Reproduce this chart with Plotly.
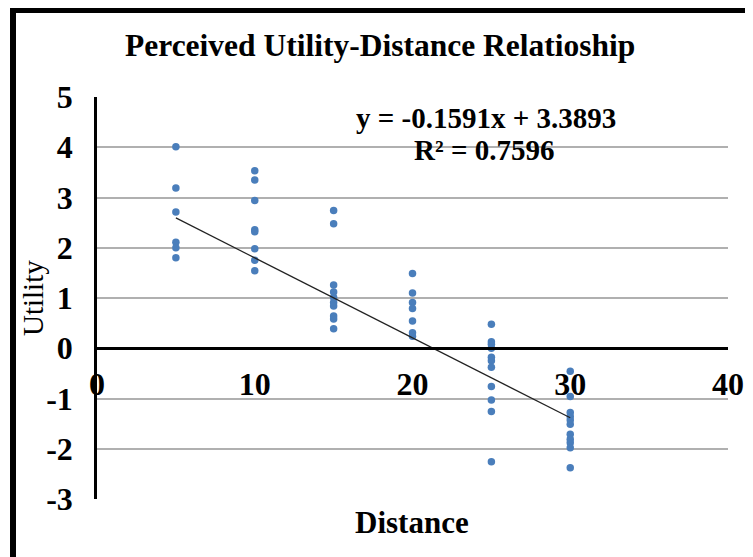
import numpy as np
import plotly.graph_objects as go

# ---- data ----
dist_5 = [5, 5, 5, 5, 5, 5]
util_5 = [4.01, 3.19, 2.71, 2.11, 2.00, 1.80]

dist_10 = [10, 10, 10, 10, 10, 10, 10, 10]
util_10 = [3.53, 3.35, 2.94, 2.36, 2.32, 1.98, 1.75, 1.54]

dist_15 = [15, 15, 15, 15, 15, 15, 15, 15, 15, 15]
util_15 = [2.74, 2.48, 1.26, 1.12, 1.01, 0.91, 0.84, 0.64, 0.58, 0.39]

dist_20 = [20, 20, 20, 20, 20, 20, 20]
util_20 = [1.49, 1.10, 0.91, 0.79, 0.54, 0.31, 0.24]

dist_25 = [25, 25, 25, 25, 25, 25, 25, 25, 25, 25, 25]
util_25 = [0.48, 0.13, 0.08, 0.00, -0.18, -0.25, -0.38, -0.76, -1.03, -1.26, -2.26]

dist_30 = [30, 30, 30, 30, 30, 30, 30, 30, 30, 30, 30]
util_30 = [-0.46, -0.96, -1.28, -1.36, -1.43, -1.51, -1.71, -1.81, -1.88, -1.98, -2.38]

SLOPE = -0.1591
INTERCEPT = 3.3893
R2 = 0.7596

x_ticks = [0, 10, 20, 30, 40]
x_ticklabels = ["0", "10", "20", "30", "40"]
y_ticks = [-3, -2, -1, 0, 1, 2, 3, 4, 5]
y_ticklabels = ["-3", "-2", "-1", "0", "1", "2", "3", "4", "5"]

title_text = "Perceived Utility-Distance Relatioship"
x_title = "Distance"
y_title = "Utility"

distance = dist_5 + dist_10 + dist_15 + dist_20 + dist_25 + dist_30
utility = util_5 + util_10 + util_15 + util_20 + util_25 + util_30

trend_x = np.array([min(distance), max(distance)], dtype=float)
trend_y = SLOPE * trend_x + INTERCEPT

SERIF = "Liberation Serif, Times New Roman, serif"

# page body adds an 8px offset; plot area in page pixels: x 97..728, y 97..499
OFF = 8
PL, PR, PT, PB = 97, 728, 97, 499
PW, PH = PR - PL, PB - PT


def px(x):
    return (x - PL) / PW


def py(y):
    return (PB - y) / PH


fig = go.Figure()
fig.add_trace(go.Scatter(
    x=distance, y=utility, mode="markers",
    marker=dict(color="#4a7ebb", size=7.5),
    showlegend=False, cliponaxis=False,
))
fig.add_trace(go.Scatter(
    x=trend_x, y=trend_y, mode="lines",
    line=dict(color="#222222", width=1.2),
    showlegend=False,
))

fig.update_layout(
    width=753, height=557,
    margin=dict(l=PL - OFF, r=753 - PR + OFF, t=PT - OFF, b=557 - PB + OFF,
                autoexpand=False),
    paper_bgcolor="white", plot_bgcolor="white",
    font=dict(family=SERIF, color="black"),
    xaxis=dict(
        range=[0, 40], tickvals=x_ticks, ticktext=x_ticklabels,
        anchor="free", position=(0 - (-3)) / (5 - (-3)),
        showline=True, linecolor="black", linewidth=2.5,
        showgrid=False, zeroline=False,
        ticks="outside", ticklen=7, tickcolor="rgba(0,0,0,0)",
        tickfont=dict(family=SERIF, size=32, weight="bold", color="black"),
    ),
    yaxis=dict(
        range=[-3, 5], tickvals=y_ticks, ticktext=y_ticklabels,
        showline=True, linecolor="black", linewidth=2.5,
        showgrid=True, gridcolor="#b0b0b0", gridwidth=1.5,
        zeroline=False,
        ticks="outside", ticklen=15, tickcolor="rgba(0,0,0,0)",
        tickfont=dict(family=SERIF, size=32, weight="bold", color="black"),
    ),
    shapes=[dict(
        type="rect", xref="paper", yref="paper",
        x0=px(13), x1=px(770), y0=py(580), y1=py(OFF + 2),
        line=dict(color="black", width=6), fillcolor="rgba(0,0,0,0)",
        layer="above",
    )],
    annotations=[
        dict(text=title_text, xref="paper", yref="paper",
             x=px(380), y=py(46),
             xanchor="center", yanchor="middle", showarrow=False,
             font=dict(family=SERIF, size=31.5, weight="bold", color="black")),
        dict(text=x_title, xref="paper", yref="paper",
             x=px(412), y=py(522),
             xanchor="center", yanchor="middle", showarrow=False,
             font=dict(family=SERIF, size=31, weight="bold", color="black")),
        dict(text=y_title, xref="paper", yref="paper",
             x=px(33), y=py(298), textangle=-90,
             xanchor="center", yanchor="middle", showarrow=False,
             font=dict(family=SERIF, size=29, color="black")),
        dict(text=f"y = {SLOPE}x + {INTERCEPT}", xref="paper", yref="paper",
             x=px(486), y=py(118),
             xanchor="center", yanchor="middle", showarrow=False,
             font=dict(family=SERIF, size=29, weight="bold", color="black")),
        dict(text=f"R² = {R2}", xref="paper", yref="paper",
             x=px(484), y=py(150),
             xanchor="center", yanchor="middle", showarrow=False,
             font=dict(family=SERIF, size=29, weight="bold", color="black")),
    ],
)

fig.write_html("out.html")
